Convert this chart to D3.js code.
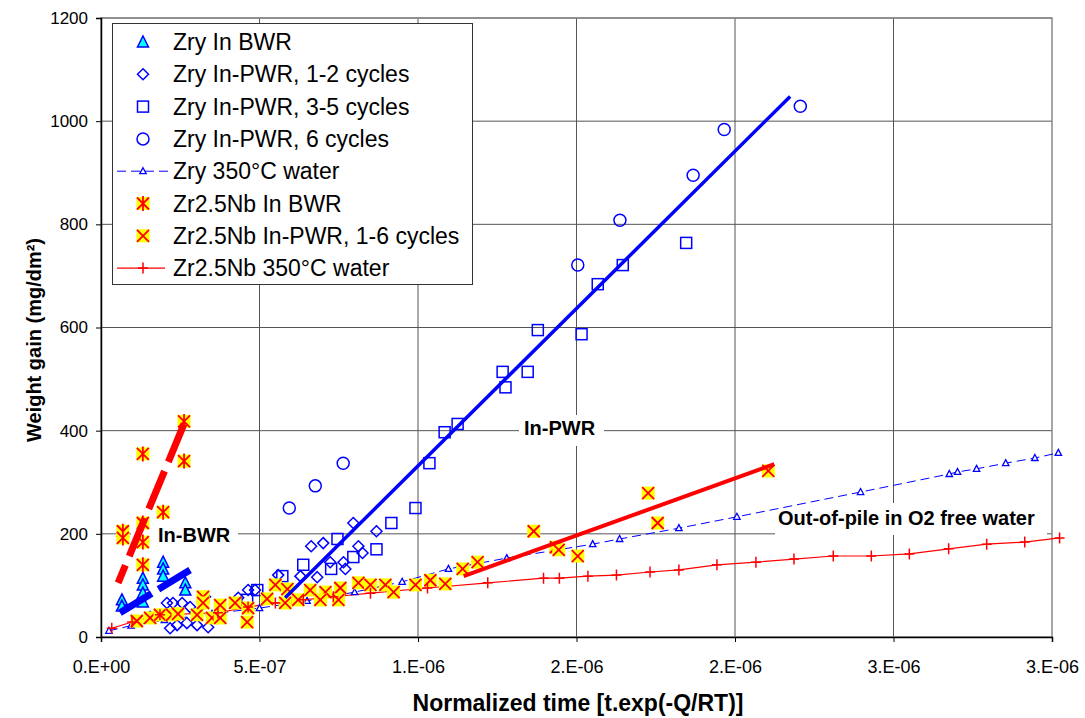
<!DOCTYPE html>
<html lang="en">
<head>
<meta charset="UTF-8">
<title>Weight gain vs normalized time</title>
<style>
  body { margin: 0; background: #fff; }
  svg { display: block; font-family: Arial, "Liberation Sans", sans-serif; }
  .grid line { stroke: #555; stroke-width: 1; }
  .tick-label { font-size: 17px; fill: #000; }
  .axis-title { font-size: 23px; font-weight: bold; }
  .y-title { font-size: 20px; }
  .note { font-size: 20px; font-weight: bold; }
  .legend text { font-size: 23px; }
</style>
</head>
<body>
<svg width="1085" height="718"></svg>
<script src="https://d3js.org/d3.v7.min.js"></script>
<script>
// x values are read in units of 1e-7 (normalized time), y in mg/dm2
const zryBwr = [[0.66,72],[0.66,60],[1.32,114],[1.32,101],[1.32,85],[1.32,68],[1.96,145],[1.96,132],[1.96,118],[2.66,105],[2.66,91]];
const zryPwr12 = [[1.55,39],[2.08,66],[2.27,66],[2.56,66],[2.81,58],[2.18,17],[2.4,23],[2.71,27],[3.03,23],[3.28,78],[3.38,19],[3.69,39],[4.33,76],[4.64,91],[4.86,91],[5.59,120],[6.29,118],[6.63,176],[6.82,116],[7.01,182],[7.23,145],[7.65,145],[7.71,132],[7.96,221],[8.12,176],[8.25,163],[8.69,205]];
const zryPwr35 = [[4.61,72],[4.93,91],[5.72,118],[6.38,140],[7.26,132],[7.46,190],[7.96,155],[8.69,170],[9.16,221],[9.92,250],[10.36,337],[10.84,397],[11.25,413],[12.67,514],[12.76,484],[13.46,514],[13.78,595],[15.16,587],[15.67,684],[16.46,721],[18.46,764]];
const zryPwr6 = [[5.94,250],[6.76,293],[7.64,337],[15.04,721],[16.37,808],[18.68,895],[19.66,984],[22.06,1029]];
const zry350 = [[0.25,12],[0.95,22],[2.0,33],[3.5,45],[5.0,56],[6.5,70],[8.0,87],[9.5,107],[10.96,132],[12.8,153],[15.51,180],[16.36,190],[18.23,211],[20.06,233],[23.96,281],[26.76,316],[27.02,320],[27.62,326],[28.54,337],[29.46,347],[30.2,357]];
const zrNbBwr = [[2.62,418],[1.32,355],[2.62,341],[1.96,242],[1.32,221],[0.69,205],[0.69,192],[1.32,184],[1.32,140]];
const zrNbPwr = [[1.13,31],[1.55,37],[1.86,43],[2.24,43],[2.43,45],[3.03,43],[3.22,78],[3.22,66],[3.5,37],[3.76,62],[3.76,37],[4.23,66],[4.61,29],[4.64,56],[5.24,74],[5.5,101],[5.88,93],[5.81,66],[6.22,72],[6.6,91],[7.08,87],[7.55,95],[6.92,72],[7.49,72],[8.12,105],[8.5,101],[8.97,101],[9.23,87],[9.92,101],[10.39,110],[10.86,103],[11.41,132],[11.88,145],[13.65,205],[14.35,174],[14.44,169],[15.04,157],[17.26,279],[17.56,221],[21.05,322]];
const zrNb350 = [[0.34,17],[0.98,29],[1.86,43],[3.69,47],[4.64,58],[5.5,66],[6.38,72],[7.33,78],[8.5,85],[10.3,95],[12.2,105],[13.96,114],[14.46,114],[15.36,118],[16.26,120],[17.32,126],[18.23,130],[19.43,140],[20.66,145],[21.86,151],[23.1,157],[24.3,157],[25.5,161],[26.74,171],[27.94,180],[29.14,184],[30.24,192]];

// hand-drawn trend lines
const fitZryPwr = [[5.81,76],[21.74,1048]];
const fitZrNbPwr = [[11.44,118],[21.24,335]];
const fitZryBwr = [[0.6,47],[2.87,132]];
const fitZrNbBwr = [[2.62,413],[0.54,105]];

const xTicks = [0, 5e-7, 1e-6, 1.5e-6, 2e-6, 2.5e-6, 3e-6];
const xTickLabels = ["0.E+00", "5.E-07", "1.E-06", "2.E-06", "2.E-06", "3.E-06", "3.E-06"];
const yTicks = [0, 200, 400, 600, 800, 1000, 1200];

const legendLabels = ["Zry In BWR", "Zry In-PWR, 1-2 cycles", "Zry In-PWR, 3-5 cycles", "Zry In-PWR, 6 cycles",
    "Zry 350°C water", "Zr2.5Nb In BWR", "Zr2.5Nb In-PWR, 1-6 cycles", "Zr2.5Nb 350°C water"];

const svg = d3.select("svg");
const plot = { left: 101, right: 1052, top: 18, bottom: 637 };

const x = d3.scaleLinear().domain([0, 3e-6]).range([plot.left, plot.right]);
const y = d3.scaleLinear().domain([0, 1200]).range([plot.bottom, plot.top]);
const px = d => x(d[0] * 1e-7);
const py = d => y(d[1]);

const BLUE = "#0000ff", RED = "#ff0000", YELLOW = "#ffff00", CYAN = "#00ffff";

// gridlines
const grid = svg.append("g").attr("class", "grid");
grid.selectAll(".h").data(yTicks.slice(1)).enter().append("line")
    .attr("x1", plot.left).attr("x2", plot.right)
    .attr("y1", d => y(d)).attr("y2", d => y(d));
grid.selectAll(".v").data(xTicks.slice(1, -1)).enter().append("line")
    .attr("y1", plot.top).attr("y2", plot.bottom)
    .attr("x1", d => x(d)).attr("x2", d => x(d));
svg.append("rect")
    .attr("x", plot.left).attr("y", plot.top)
    .attr("width", plot.right - plot.left).attr("height", plot.bottom - plot.top)
    .attr("fill", "none").attr("stroke", "#888").attr("stroke-width", 1.5);

// axes
const xAxis = d3.axisBottom(x).tickValues(xTicks).tickSize(5).tickFormat((d, i) => xTickLabels[i]);
const yAxis = d3.axisLeft(y).tickValues(yTicks).tickSize(5).tickFormat(d3.format("d"));
const gx = svg.append("g").attr("transform", `translate(0,${plot.bottom})`).call(xAxis);
const gy = svg.append("g").attr("transform", `translate(${plot.left},0)`).call(yAxis);
[gx, gy].forEach(g => {
    g.select(".domain").attr("stroke", "#000").attr("stroke-width", 1.5);
    g.selectAll(".tick line").attr("stroke", "#000");
    g.selectAll("text").attr("class", "tick-label").attr("font-family", null).attr("font-size", null);
});
gx.selectAll("text").attr("dy", null).attr("y", 36).style("font-size", "18px");
gy.selectAll("text").attr("x", -13);

svg.append("text").attr("class", "axis-title")
    .attr("x", 578).attr("y", 711).attr("text-anchor", "middle")
    .text("Normalized time [t.exp(-Q/RT)]");
svg.append("text").attr("class", "axis-title y-title")
    .attr("transform", "translate(41,340) rotate(-90)").attr("text-anchor", "middle")
    .text("Weight gain (mg/dm²)");

// region notes, with white boxes hiding the gridlines
const notes = [
    { text: "In-BWR", box: [131, 520, 107, 30], tx: 158, ty: 542 },
    { text: "In-PWR", box: [519, 415, 85, 31], tx: 524, ty: 435 },
    { text: "Out-of-pile in O2 free water", box: [775, 503, 272, 32], tx: 778, ty: 525 }
];
notes.forEach(n => {
    svg.append("rect").attr("x", n.box[0]).attr("y", n.box[1])
        .attr("width", n.box[2]).attr("height", n.box[3]).attr("fill", "#fff");
    svg.append("text").attr("class", "note").attr("x", n.tx).attr("y", n.ty).text(n.text);
});

// marker drawing
function drawMarker(g, type, cx, cy) {
    const m = g.append("g").attr("transform", `translate(${cx},${cy})`);
    if (type === "tri") {
        m.append("path").attr("d", "M0,-6L5.5,5L-5.5,5Z")
            .attr("fill", CYAN).attr("stroke", BLUE).attr("stroke-width", 1.5);
    } else if (type === "diamond") {
        m.append("path").attr("d", "M0,-5.5L5.5,0L0,5.5L-5.5,0Z")
            .attr("fill", "none").attr("stroke", BLUE).attr("stroke-width", 1.5);
    } else if (type === "square") {
        m.append("rect").attr("x", -5.5).attr("y", -5.5).attr("width", 11).attr("height", 11)
            .attr("fill", "none").attr("stroke", BLUE).attr("stroke-width", 1.5);
    } else if (type === "circle") {
        m.append("circle").attr("r", 6)
            .attr("fill", "none").attr("stroke", BLUE).attr("stroke-width", 1.5);
    } else if (type === "smalltri") {
        m.append("path").attr("d", "M0,-3.5L3.2,2.5L-3.2,2.5Z")
            .attr("fill", "#fff").attr("stroke", BLUE).attr("stroke-width", 1.3);
    } else if (type === "star" || type === "x") {
        m.append("rect").attr("x", -6.5).attr("y", -6.5).attr("width", 13).attr("height", 13)
            .attr("fill", YELLOW);
        let d = "M-6,-6L6,6M6,-6L-6,6";
        if (type === "star") d += "M0,-7.5V7.5";
        m.append("path").attr("d", d).attr("stroke", RED).attr("stroke-width", 1.8).attr("fill", "none");
    } else if (type === "plus") {
        m.append("path").attr("d", "M-5,0H5M0,-5.5V5.5")
            .attr("stroke", RED).attr("stroke-width", 1.5).attr("fill", "none");
    }
}

const line = d3.line().x(px).y(py);
const data = svg.append("g");

// water test curves
data.append("path").datum(zry350).attr("d", line)
    .attr("fill", "none").attr("stroke", BLUE).attr("stroke-width", 1).attr("stroke-dasharray", "9 5");
data.append("path").datum(zrNb350).attr("d", line)
    .attr("fill", "none").attr("stroke", RED).attr("stroke-width", 1.2);

const series = [
    [zryPwr12, "diamond"], [zryPwr35, "square"], [zryPwr6, "circle"], [zryBwr, "tri"],
    [zry350, "smalltri"], [zrNbBwr, "star"], [zrNbPwr, "x"], [zrNb350, "plus"]
];
series.forEach(([pts, type]) => {
    const g = data.append("g");
    pts.forEach(d => drawMarker(g, type, px(d), py(d)));
});

// trend lines
data.append("path").datum(fitZryPwr).attr("d", line)
    .attr("stroke", BLUE).attr("stroke-width", 3.5).attr("fill", "none");
data.append("path").datum(fitZrNbPwr).attr("d", line)
    .attr("stroke", RED).attr("stroke-width", 4).attr("fill", "none");
data.append("path").datum(fitZryBwr).attr("d", line)
    .attr("stroke", BLUE).attr("stroke-width", 7).attr("fill", "none").attr("stroke-dasharray", "37 8");
data.append("path").datum(fitZrNbBwr).attr("d", line)
    .attr("stroke", RED).attr("stroke-width", 7).attr("fill", "none").attr("stroke-dasharray", "41 10");

// legend
const legend = svg.append("g").attr("class", "legend");
legend.append("rect").attr("x", 112.5).attr("y", 23.5).attr("width", 360).attr("height", 261)
    .attr("fill", "#fff").attr("stroke", "#333").attr("stroke-width", 1);
const legendTypes = ["tri", "diamond", "square", "circle", "smalltri", "star", "x", "plus"];
legendLabels.forEach((label, i) => {
    const cy = 42 + i * 32.3;
    if (i === 4) {
        legend.append("line").attr("x1", 117).attr("x2", 169).attr("y1", cy).attr("y2", cy)
            .attr("stroke", BLUE).attr("stroke-width", 1).attr("stroke-dasharray", "9 5");
    }
    if (i === 7) {
        legend.append("line").attr("x1", 117).attr("x2", 165).attr("y1", cy).attr("y2", cy)
            .attr("stroke", RED).attr("stroke-width", 1.2);
    }
    drawMarker(legend, legendTypes[i], 143, cy);
    legend.append("text").attr("x", 173).attr("y", cy + 8).text(label);
});
</script>
</body>
</html>
